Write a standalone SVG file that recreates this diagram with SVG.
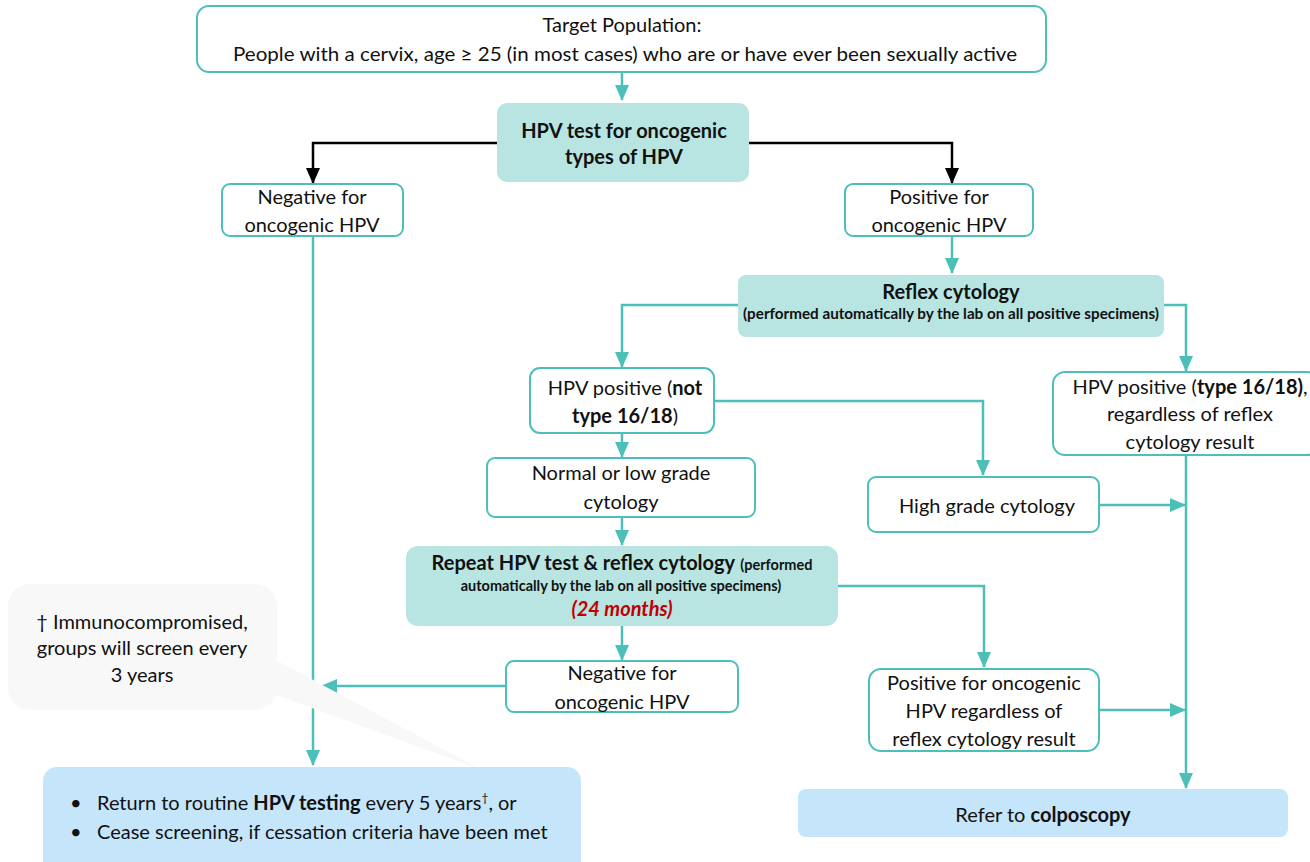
<svg xmlns="http://www.w3.org/2000/svg" width="1310" height="862" viewBox="0 0 1310 862">
<defs>
<style>
text{font-family:Lato,"Liberation Sans",sans-serif;font-size:20px;fill:#111;}
.c{text-anchor:middle;}
.b{font-weight:bold;}
.sm{font-size:14.5px;font-weight:bold;}
.box{fill:#fff;stroke:#4cbfb9;stroke-width:2;}
.hl{fill:#b8e5e2;stroke:none;}
.blue{fill:#c5e5fa;stroke:none;}
.ln{fill:none;stroke:#4cbfb9;stroke-width:2.5;}
.blk{fill:none;stroke:#000;stroke-width:2.5;}
.red{fill:#c00000;font-weight:bold;font-style:italic;}
</style>
<marker id="at" markerUnits="userSpaceOnUse" markerWidth="16" markerHeight="16" viewBox="0 0 16 16" refX="15" refY="8" orient="auto"><path d="M0,1 L16,8 L0,15 z" fill="#4cbfb9"/></marker>
<marker id="ab" markerUnits="userSpaceOnUse" markerWidth="16" markerHeight="16" viewBox="0 0 16 16" refX="15" refY="8" orient="auto"><path d="M0,1 L16,8 L0,15 z" fill="#000"/></marker>
</defs>

<g id="connectors">
<path class="ln" d="M622,72 V100" marker-end="url(#at)"/>
<path class="blk" d="M497,143 H313 V183" marker-end="url(#ab)"/>
<path class="blk" d="M749,143 H952 V183" marker-end="url(#ab)"/>
<path class="ln" d="M313,236 V765" marker-end="url(#at)"/>
<path class="ln" d="M952,236 V273" marker-end="url(#at)"/>
<path class="ln" d="M738,305 H622 V367" marker-end="url(#at)"/>
<path class="ln" d="M1164,305 H1186 V371" marker-end="url(#at)"/>
<path class="ln" d="M714,401 H983 V475" marker-end="url(#at)"/>
<path class="ln" d="M622,433 V457" marker-end="url(#at)"/>
<path class="ln" d="M622,517 V545" marker-end="url(#at)"/>
<path class="ln" d="M622,626 V660" marker-end="url(#at)"/>
<path class="ln" d="M838,586 H984 V667" marker-end="url(#at)"/>
<path class="ln" d="M506,686 H322" marker-end="url(#at)"/>
<path class="ln" d="M1186,455 V788" marker-end="url(#at)"/>
<path class="ln" d="M1099,505 H1185" marker-end="url(#at)"/>
<path class="ln" d="M1099,710 H1185" marker-end="url(#at)"/>
</g>

<g id="callout">
<rect x="8" y="584" width="269" height="126" rx="22" fill="#f8f8f8"/>
<path d="M268,656 L482,770 L268,692 Z" fill="#f8f8f8"/>
<text class="c" x="142" y="629">† Immunocompromised,</text>
<text class="c" x="142" y="655">groups will screen every</text>
<text class="c" x="142" y="682">3 years</text>
</g>

<g id="target">
<rect class="box" x="197" y="6" width="849" height="66" rx="12"/>
<text class="c" x="622" y="32">Target Population:</text>
<text class="c" x="625" y="61" textLength="784" lengthAdjust="spacingAndGlyphs">People with a cervix, age ≥ 25 (in most cases) who are or have ever been sexually active</text>
</g>

<g id="hpvtest">
<rect class="hl" x="497" y="103" width="252" height="79" rx="10"/>
<text class="c b" x="624" y="138">HPV test for oncogenic</text>
<text class="c b" x="624" y="164">types of HPV</text>
</g>

<g id="negative1">
<rect class="box" x="222" y="184" width="181" height="52" rx="8"/>
<text class="c" x="312" y="204">Negative for</text>
<text class="c" x="312" y="232">oncogenic HPV</text>
</g>

<g id="positive1">
<rect class="box" x="845" y="184" width="188" height="52" rx="8"/>
<text class="c" x="939" y="204">Positive for</text>
<text class="c" x="939" y="232">oncogenic HPV</text>
</g>

<g id="reflex">
<rect class="hl" x="738" y="275" width="426" height="62" rx="8"/>
<text class="c b" x="951" y="299">Reflex cytology</text>
<text class="c sm" x="951" y="319" textLength="416" lengthAdjust="spacingAndGlyphs">(performed automatically by the lab on all positive specimens)</text>
</g>

<g id="notype">
<rect class="box" x="530" y="368" width="184" height="65" rx="10"/>
<text class="c" x="625" y="395">HPV positive (<tspan class="b">not</tspan></text>
<text class="c" x="625" y="423"><tspan class="b">type 16/18</tspan>)</text>
</g>

<g id="type1618">
<rect class="box" x="1053" y="372" width="266" height="83" rx="12"/>
<text class="c" x="1190" y="394">HPV positive (<tspan class="b">type 16/18)</tspan>,</text>
<text class="c" x="1190" y="421">regardless of reflex</text>
<text class="c" x="1190" y="449">cytology result</text>
</g>

<g id="normal">
<rect class="box" x="487" y="458" width="268" height="59" rx="8"/>
<text class="c" x="621" y="480">Normal or low grade</text>
<text class="c" x="621" y="509">cytology</text>
</g>

<g id="highgrade">
<rect class="box" x="868" y="477" width="231" height="55" rx="8"/>
<text class="c" x="987" y="513">High grade cytology</text>
</g>

<g id="repeat">
<rect class="hl" x="406" y="546" width="432" height="80" rx="12"/>
<text class="c" x="622" y="570"><tspan class="b">Repeat HPV test &amp; reflex cytology</tspan> <tspan class="sm">(performed</tspan></text>
<text class="c sm" x="621" y="591">automatically by the lab on all positive specimens)</text>
<text class="c red" x="622" y="616">(24 months)</text>
</g>

<g id="negative2">
<rect class="box" x="506" y="661" width="232" height="51" rx="8"/>
<text class="c" x="622" y="680">Negative for</text>
<text class="c" x="622" y="709">oncogenic HPV</text>
</g>

<g id="positive2">
<rect class="box" x="869" y="669" width="230" height="82" rx="12"/>
<text class="c" x="984" y="690">Positive for oncogenic</text>
<text class="c" x="984" y="718">HPV regardless of</text>
<text class="c" x="984" y="746">reflex cytology result</text>
</g>

<g id="routine">
<rect class="blue" x="43" y="767" width="538" height="110" rx="14"/>
<text x="70" y="810">•</text>
<text x="97" y="810">Return to routine <tspan class="b">HPV testing</tspan> every 5 years<tspan font-size="12" dy="-8">†</tspan><tspan dy="8">, or</tspan></text>
<text x="70" y="839">•</text>
<text x="97" y="839">Cease screening, if cessation criteria have been met</text>
</g>

<g id="colposcopy">
<rect class="blue" x="798" y="789" width="490" height="48" rx="8"/>
<text class="c" x="1043" y="822">Refer to <tspan class="b">colposcopy</tspan></text>
</g>
</svg>
